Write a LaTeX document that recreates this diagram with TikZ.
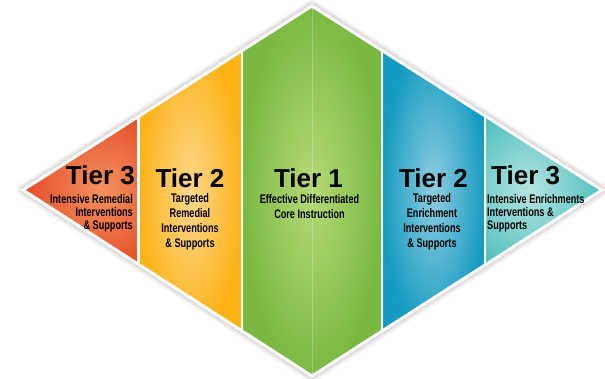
\documentclass[tikz,border=0pt]{standalone}
\usepackage{fontspec}
\setmainfont{Liberation Sans}
\newfontfamily\tierfont{Liberation Sans}
\newfontfamily\subfont{Liberation Sans}[FakeStretch=0.73]
\definecolor{redout}{HTML}{E54B27}
\definecolor{redin}{HTML}{F4925E}
\definecolor{orout}{HTML}{FCB316}
\definecolor{orin}{HTML}{FED78E}
\definecolor{grout}{HTML}{79B942}
\definecolor{grin}{HTML}{B6D976}
\definecolor{blout}{HTML}{159BC1}
\definecolor{blin}{HTML}{8ECDE0}
\definecolor{tlout}{HTML}{50C0BE}
\definecolor{tlin}{HTML}{B6E4E1}
\tikzset{
  title/.style={font=\tierfont\bfseries\fontsize{26}{26}\selectfont, inner sep=0pt, text=black},
  subtight/.style={font=\subfont\bfseries\fontsize{12.5}{12.8}\selectfont, inner sep=0pt, text=black},
  subloose/.style={font=\subfont\bfseries\fontsize{12.5}{15}\selectfont, inner sep=0pt, text=black},
  sepline/.style={white, line width=2.5pt},
  border/.style={white, line width=3pt, line join=miter},
}
\begin{document}
\begin{tikzpicture}[x=1pt,y=-1pt]
\useasboundingbox[fill=white] (0,0) rectangle (605,378);
\coordinate (L) at (23,190);
\coordinate (T) at (312,6);
\coordinate (R) at (602,190);
\coordinate (B) at (312,376);
% soft shadow
\begin{scope}[yshift=-3pt]
\foreach \w/\o in {13/0.03,10/0.04,7/0.05,4/0.06}
  \draw[black, opacity=\o, line width=\w pt, line join=round] (L) -- (T) -- (R) -- (B) -- cycle;
\end{scope}
% panels
\begin{scope}
\clip (L) -- (T) -- (R) -- (B) -- cycle;
\begin{scope}
  \clip (0,0) rectangle (139,378);
  \shade[inner color=redin, outer color=redout] (23,105) rectangle (180,275);
\end{scope}
\begin{scope}
  \clip (139,0) rectangle (242,378);
  \shade[inner color=orin, outer color=orout] (139,40) rectangle (242,340);
\end{scope}
\begin{scope}
  \clip (242,0) rectangle (382,378);
  \shade[inner color=grin, outer color=grout] (242,6) rectangle (382,376);
\end{scope}
\begin{scope}
  \clip (382,0) rectangle (485,378);
  \shade[inner color=blin, outer color=blout] (382,40) rectangle (485,340);
\end{scope}
\begin{scope}
  \clip (485,0) rectangle (605,378);
  \shade[inner color=tlin, outer color=tlout] (455,105) rectangle (602,275);
\end{scope}
\draw[white, opacity=0.25, line width=0.8pt] (T) -- (B);
\draw[sepline] (138.5,0) -- (138.5,378);
\draw[sepline] (242,0) -- (242,378);
\draw[sepline] (382,0) -- (382,378);
\draw[sepline] (485,0) -- (485,378);
\end{scope}
\draw[border] (L) -- (T) -- (R) -- (B) -- cycle;
% texts
\node[title, anchor=base east] (t3l) at (135,184.5) {Tier 3};
\node[subtight, anchor=north east, align=right] (s3l) at (133,194.6) {Intensive Remedial\\Interventions\\\& Supports};
\node[title, anchor=base] (t2l) at (190,187) {Tier 2};
\node[subloose, anchor=north, align=center] (s2l) at (190,193.6) {Targeted\\Remedial\\Interventions\\\& Supports};
\node[title, anchor=base] (t1) at (308.5,187) {Tier 1};
\node[subloose, anchor=north, align=center] (s1) at (309.5,194.2) {Effective Differentiated\\Core Instruction};
\node[title, anchor=base] (t2r) at (433.5,187) {Tier 2};
\node[subloose, anchor=north, align=center] (s2r) at (432,193.6) {Targeted\\Enrichment\\Interventions\\\& Supports};
\node[title, anchor=base west] (t3r) at (491,184.5) {Tier 3};
\node[subtight, anchor=north west, align=left] (s3r) at (487,194.2) {Intensive Enrichments\\Interventions \&\\Supports};
\end{tikzpicture}
\end{document}
